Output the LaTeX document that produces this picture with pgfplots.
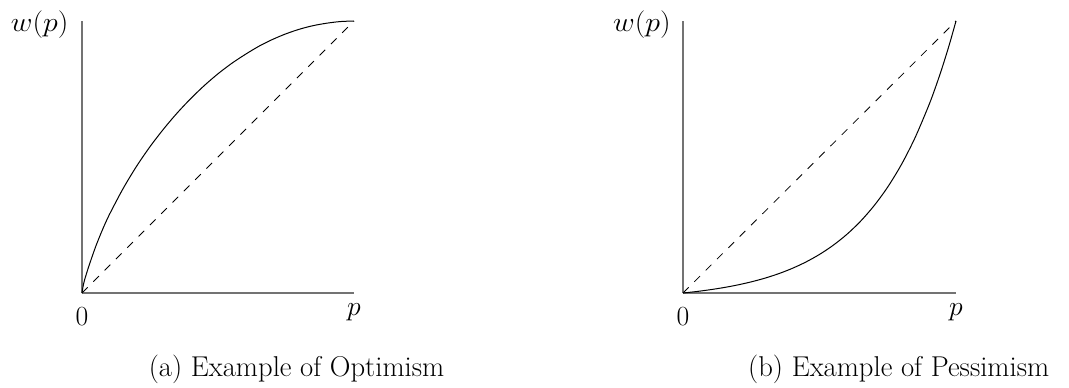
\documentclass[border=0pt]{standalone}
\usepackage{pgfplots}
\pgfplotsset{compat=1.18}
\pgfplotsset{wstyle/.style={
  scale only axis, width=204pt, height=204pt,
  xmin=0, xmax=1, ymin=0, ymax=1,
  axis x line=bottom, axis y line=left,
  axis line style={-, line width=1.4pt, draw=black!55},
  xtick=\empty, ytick=\empty, clip=false,
}}
\newcommand{\lblfont}{\fontsize{20.74}{25}\selectfont}
\newcommand{\capfont}{\fontsize{21.5}{26}\selectfont}
\begin{document}
\begin{tikzpicture}[x=1pt,y=1pt]
\useasboundingbox (0,0) rectangle (801.75,-290.25);
% (a) Optimism
\begin{axis}[wstyle, at={(61.5pt,-219.75pt)}, anchor=south west]
\addplot[black, line width=0.75pt, smooth, tension=0.5] coordinates {
(0,0) (0.005,0.030) (0.01,0.050) (0.025,0.098) (0.05,0.170) (0.075,0.232)
(0.10,0.287) (0.15,0.382) (0.20,0.465) (0.25,0.538) (0.30,0.603)
(0.35,0.662) (0.40,0.715) (0.45,0.763) (0.50,0.806) (0.55,0.844)
(0.60,0.877) (0.65,0.907) (0.70,0.932) (0.75,0.953) (0.80,0.970)
(0.85,0.983) (0.90,0.992) (0.95,0.998) (1,1)};
\addplot[black, line width=0.6pt, dash pattern=on 6pt off 6pt] coordinates {(0,0) (1,1)};
\node[anchor=north, inner sep=0pt, yshift=-10.5pt] at (axis cs:0,0) {\lblfont $0$};
\node[anchor=north, inner sep=0pt, yshift=-7.5pt] at (axis cs:1,0) {\lblfont $p$};
\node[anchor=base east, inner sep=0pt, xshift=-10pt, yshift=-7.7pt] at (axis cs:0,1) {\lblfont\scalebox{1.08}[1]{$w(p)$}};
\end{axis}
% (b) Pessimism
\begin{axis}[wstyle, width=204.75pt, at={(512.25pt,-219.75pt)}, anchor=south west]
\addplot[black, line width=0.75pt, smooth, tension=0.5] coordinates {
(0,0) (0.05,0.0055) (0.10,0.0122) (0.15,0.0201) (0.20,0.0296) (0.25,0.0410)
(0.30,0.0546) (0.35,0.0709) (0.40,0.0905) (0.45,0.1139) (0.50,0.1419)
(0.55,0.1754) (0.60,0.2155) (0.65,0.2635) (0.70,0.3211) (0.75,0.3899)
(0.80,0.4723) (0.85,0.5710) (0.90,0.6892) (0.925,0.7567) (0.95,0.8307)
(0.975,0.9115) (1,1)};
\addplot[black, line width=0.6pt, dash pattern=on 6pt off 6pt] coordinates {(0,0) (1,1)};
\node[anchor=north, inner sep=0pt, yshift=-10.5pt] at (axis cs:0,0) {\lblfont $0$};
\node[anchor=north, inner sep=0pt, yshift=-7.5pt] at (axis cs:1,0) {\lblfont $p$};
\node[anchor=base east, inner sep=0pt, xshift=-9pt, yshift=-7.7pt] at (axis cs:0,1) {\lblfont\scalebox{1.08}[1]{$w(p)$}};
\end{axis}
\node[anchor=base, inner sep=0pt] at (222.4,-282) {\capfont (a) Example of Optimism};
\node[anchor=base, inner sep=0pt] at (674,-282) {\capfont (b) Example of Pessimism};
\end{tikzpicture}
\end{document}
